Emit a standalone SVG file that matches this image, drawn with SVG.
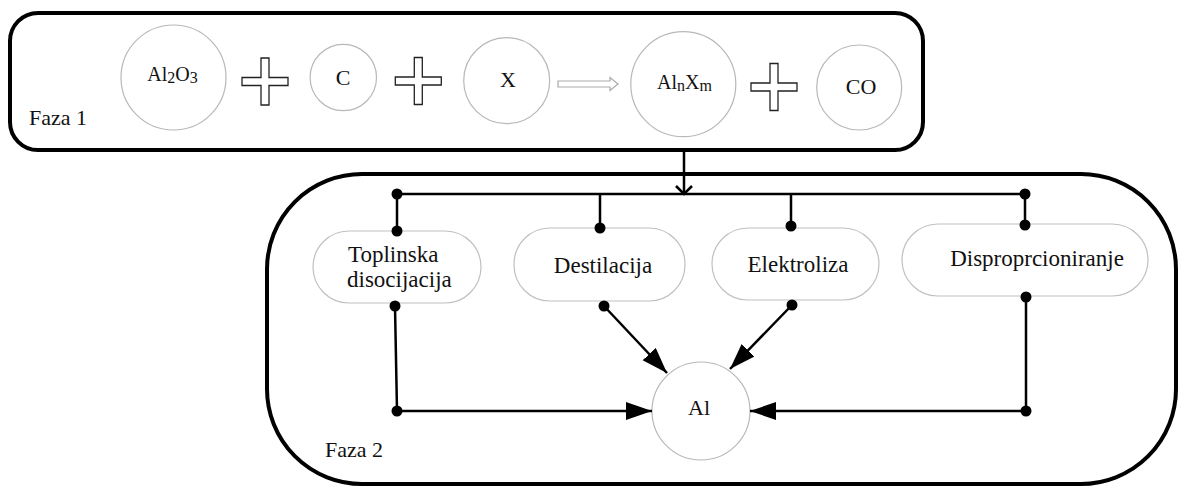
<svg xmlns="http://www.w3.org/2000/svg" width="1180" height="488" viewBox="0 0 1180 488" font-family="'Liberation Serif', 'Times New Roman', serif">
  <style>
    .phase { fill: none; stroke: #000; stroke-width: 4; }
    .mol { fill: #fff; stroke: #b8b8b8; stroke-width: 1.2; }
    .proc { fill: #fff; stroke: #c0c0c0; stroke-width: 1.2; }
    .plus { fill: #fff; stroke: #222; stroke-width: 1.3; }
    text { font-family: "Liberation Serif", "Times New Roman", serif; fill: #111; }
    .conn { fill: none; stroke: #000; stroke-width: 2.5; }
    .dot { fill: #000; }
  </style>
  <defs>
    <path id="plusShape" d="M-4,-23.5 H4 V-4 H23 V4 H4 V23.5 H-4 V4 H-23 V-4 H-4 Z"/>
    <marker id="head" markerUnits="userSpaceOnUse" markerWidth="28" markerHeight="20" refX="26" refY="9" orient="auto">
      <path d="M0,0 L26,9 L0,18 Z" fill="#000"/>
    </marker>
  </defs>
  <rect fill="#fff" width="1180" height="488"/>

  <g id="faza1">
    <rect class="phase" x="10" y="13" width="913" height="137" rx="28"/>
    <text x="29" y="125" font-size="22">Faza 1</text>
  </g>
  <g id="faza2">
    <rect class="phase" x="267" y="174" width="909" height="310" rx="95"/>
    <text x="325" y="457" font-size="22">Faza 2</text>
  </g>

  <g id="al2o3">
    <circle class="mol" cx="173.5" cy="77.5" r="52.5"/>
    <text x="172.5" y="81" font-size="20" text-anchor="middle">Al<tspan font-size="16" dy="2">2</tspan><tspan dy="-2">O</tspan><tspan font-size="16" dy="2">3</tspan></text>
  </g>
  <g id="plus1"><use href="#plusShape" class="plus" x="265" y="81.5"/></g>
  <g id="c">
    <circle class="mol" cx="343.3" cy="77.5" r="33.2"/>
    <text x="343" y="85" font-size="22" text-anchor="middle">C</text>
  </g>
  <g id="plus2"><use href="#plusShape" class="plus" x="418.3" y="81"/></g>
  <g id="x">
    <circle class="mol" cx="506.7" cy="80.7" r="43"/>
    <text x="508" y="87" font-size="22" text-anchor="middle">X</text>
  </g>
  <g id="reaction-arrow">
    <path d="M558,81 H610 V77.5 L618,84 L610,90.5 V87 H558 Z" fill="#fff" stroke="#aaa" stroke-width="1.2"/>
  </g>
  <g id="alnxm">
    <circle class="mol" cx="683.3" cy="84.2" r="52.5"/>
    <text x="684.5" y="89" font-size="20" text-anchor="middle">Al<tspan font-size="16" dy="2">n</tspan><tspan dy="-2">X</tspan><tspan font-size="16" dy="2">m</tspan></text>
  </g>
  <g id="plus3"><use href="#plusShape" class="plus" x="774" y="87"/></g>
  <g id="co">
    <circle class="mol" cx="859.2" cy="87.5" r="42.5"/>
    <text x="861" y="94" font-size="22" text-anchor="middle">CO</text>
  </g>

  <g id="toplinska">
    <rect class="proc" x="313" y="231" width="168" height="72" rx="36"/>
    <text x="348" y="262" font-size="23">Toplinska</text>
    <text x="347" y="287" font-size="23">disocijacija</text>
  </g>
  <g id="destilacija">
    <rect class="proc" x="514" y="228" width="171" height="73" rx="36"/>
    <text x="603" y="273" font-size="23" text-anchor="middle">Destilacija</text>
  </g>
  <g id="elektroliza">
    <rect class="proc" x="712" y="228" width="167" height="72" rx="36"/>
    <text x="798" y="272" font-size="23" text-anchor="middle">Elektroliza</text>
  </g>
  <g id="disproporcioniranje">
    <rect class="proc" x="902" y="224" width="246" height="72" rx="36"/>
    <text x="1037" y="266" font-size="23" text-anchor="middle">Disproprcioniranje</text>
  </g>
  <g id="al">
    <circle class="mol" cx="701" cy="411" r="49"/>
    <text x="699" y="415" font-size="22" text-anchor="middle">Al</text>
  </g>

  <g id="connectors">
    <path class="conn" d="M684,150 V194"/>
    <polyline class="conn" points="676,186 684,194 692,186"/>
    <path class="conn" d="M397,194 H1025"/>
    <path class="conn" d="M397,194 V231"/>
    <path class="conn" d="M600,194 V228"/>
    <path class="conn" d="M791,194 V226"/>
    <path class="conn" d="M1025,194 V225"/>
    <path class="conn" d="M395,306 L397,411 H652" marker-end="url(#head)"/>
    <path class="conn" d="M604,306 L667,373" marker-end="url(#head)"/>
    <path class="conn" d="M792,305 L730,369" marker-end="url(#head)"/>
    <path class="conn" d="M1026,297 V411 H750" marker-end="url(#head)"/>
    <circle class="dot" cx="397" cy="194" r="5.5"/>
    <circle class="dot" cx="397" cy="231" r="5.5"/>
    <circle class="dot" cx="600" cy="228" r="5.5"/>
    <circle class="dot" cx="791" cy="226" r="5.5"/>
    <circle class="dot" cx="1025" cy="194" r="5.5"/>
    <circle class="dot" cx="1025" cy="225" r="5.5"/>
    <circle class="dot" cx="395" cy="306" r="5.5"/>
    <circle class="dot" cx="397" cy="411" r="5.5"/>
    <circle class="dot" cx="604" cy="306" r="5.5"/>
    <circle class="dot" cx="792" cy="305" r="5.5"/>
    <circle class="dot" cx="1026" cy="297" r="5.5"/>
    <circle class="dot" cx="1026" cy="411" r="5.5"/>
  </g>
</svg>
